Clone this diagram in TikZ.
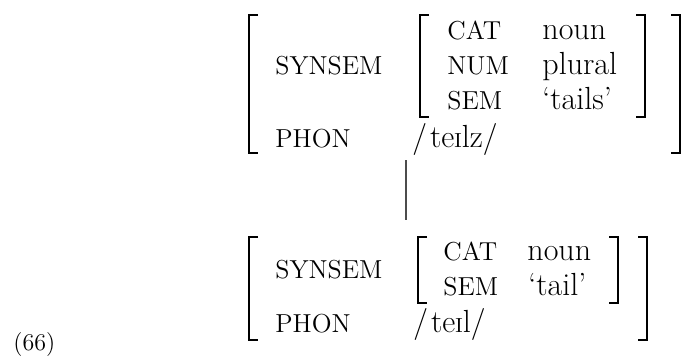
\documentclass[tikz,border=0pt]{standalone}
\newcommand{\smI}{{\fontsize{10.2}{11}\selectfont I}}
\begin{document}
\begin{tikzpicture}[x=0.5pt,y=-0.5pt,
  lbl/.style={anchor=base west,inner sep=0pt,font=\fontsize{16}{19}\selectfont},
  feat/.style={anchor=base west,inner sep=0pt,font=\fontsize{13}{15}\selectfont},
  brk/.style={line width=1pt},
  link/.style={line width=0.6pt,black!70}]
\useasboundingbox (0,0) rectangle (682,360);
% ---------- upper AVM ----------
\draw[brk] (258,15) -- (249,15) -- (249,153) -- (258,153);
\draw[brk] (671,15) -- (680,15) -- (680,153) -- (671,153);
\draw[brk] (429,15) -- (420,15) -- (420,117) -- (429,117);
\draw[brk] (636,15) -- (645,15) -- (645,117) -- (636,117);
\node[feat] (usyn) at (275,74) {SYNSEM};
\node[feat] (ucat) at (447,39) {CAT};
\node[lbl] (ucatv) at (542,39) {noun};
\node[feat] (unum) at (447,74) {NUM};
\node[lbl] (unumv) at (542,74) {plural};
\node[feat] (usem) at (447,109) {SEM};
\node[lbl] (usemv) at (542,109) {‘tails’};
\node[feat] (uphon) at (275,147) {PHON};
\node[lbl] (uphonv) at (412,147) {/\kern1.5pt te\smI lz/};
% ---------- link ----------
\coordinate (ltop) at (406,160);
\coordinate (lbot) at (406,220);
\draw[link] (ltop) -- (lbot);
% ---------- lower AVM ----------
\draw[brk] (258,237) -- (249,237) -- (249,340) -- (258,340);
\draw[brk] (638,237) -- (647,237) -- (647,340) -- (638,340);
\draw[brk] (427,237) -- (418,237) -- (418,303) -- (427,303);
\draw[brk] (609,237) -- (618,237) -- (618,303) -- (609,303);
\node[feat] (lsyn) at (275,278) {SYNSEM};
\node[feat] (lcat) at (443,260) {CAT};
\node[lbl] (lcatv) at (527,260) {noun};
\node[feat] (lsem) at (443,295) {SEM};
\node[lbl] (lsemv) at (528,295) {‘tail’};
\node[feat] (lphon) at (275,332) {PHON};
\node[lbl] (lphonv) at (413,332) {/\kern1.5pt te\smI l/};
% ---------- example number ----------
\node[anchor=base west,inner sep=0pt,font=\fontsize{12}{14}\selectfont] (exnum) at (13,350) {(66)};
\end{tikzpicture}
\end{document}
